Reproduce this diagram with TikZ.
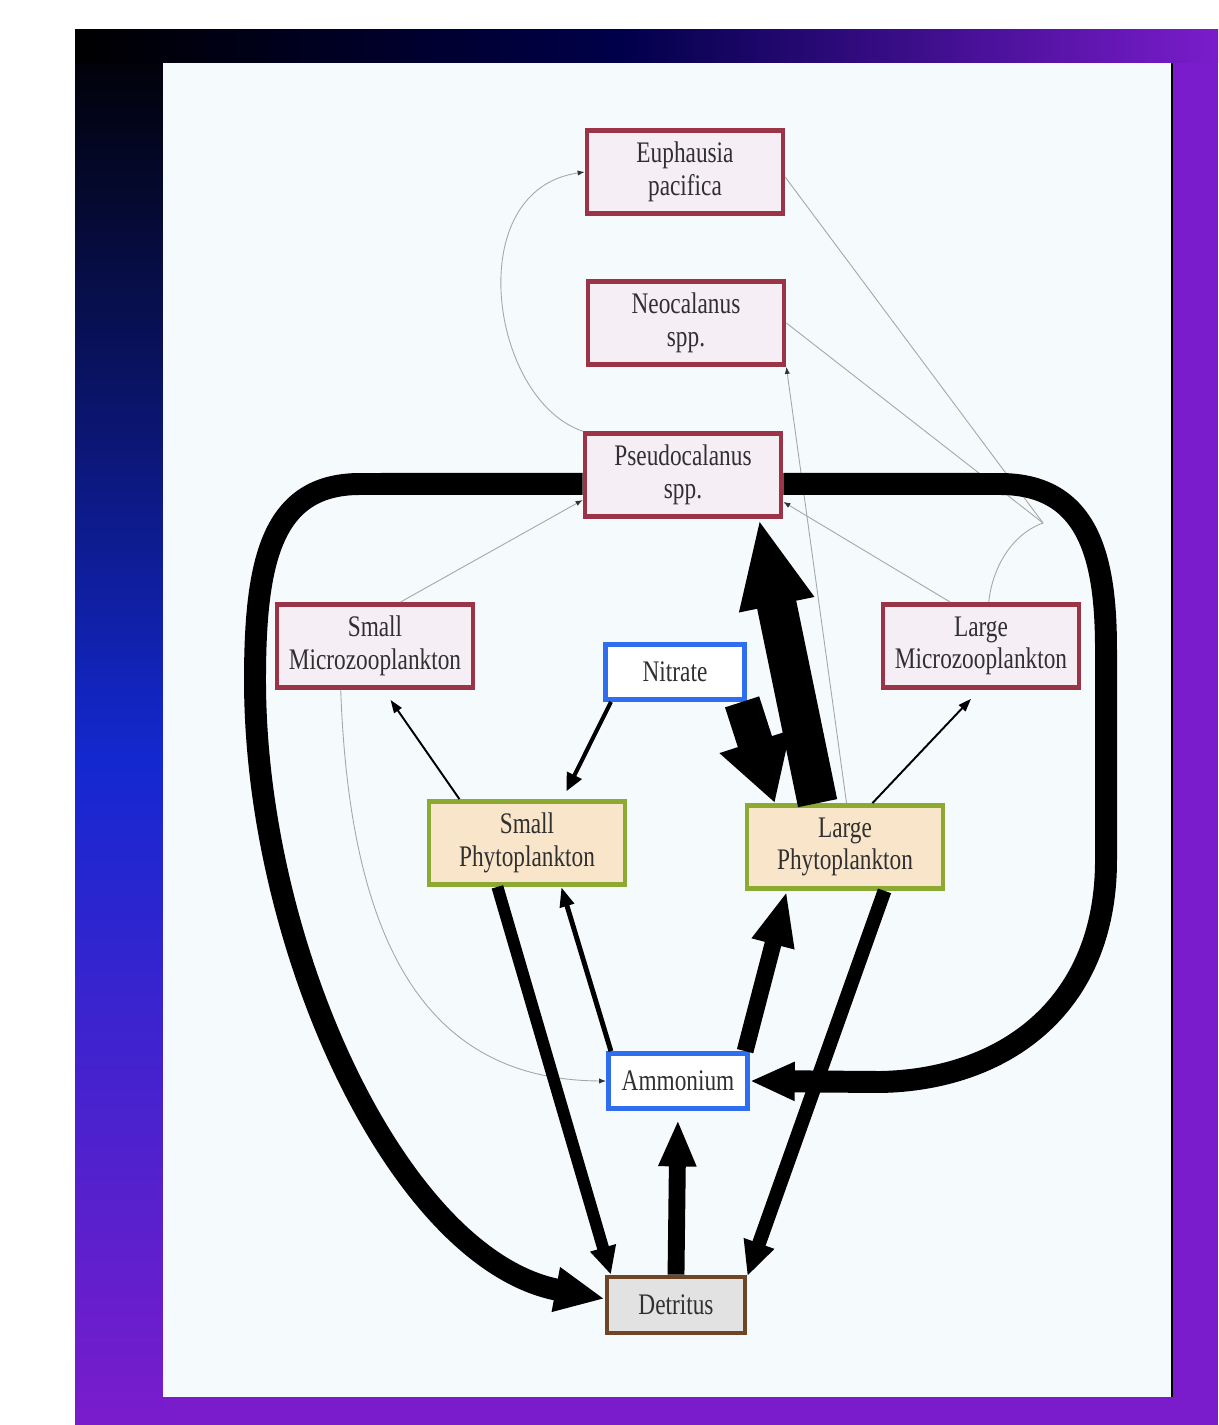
\documentclass[tikz,border=0pt]{standalone}
\usepackage{fontspec}
\setmainfont{Liberation Serif}[FakeStretch=0.78]
\usetikzlibrary{arrows.meta}

\definecolor{zooline}{HTML}{9A3446}
\definecolor{zoofill}{HTML}{F5EEF5}
\definecolor{phyline}{HTML}{8CAA32}
\definecolor{phyfill}{HTML}{F9E5C9}
\definecolor{nutline}{HTML}{2F6FEF}
\definecolor{detline}{HTML}{6E4626}
\definecolor{detfill}{HTML}{E2E2E2}
\definecolor{panel}{HTML}{F5FAFC}
\definecolor{label}{HTML}{303030}
\definecolor{bgnavy}{HTML}{00004A}
\definecolor{bgblue}{HTML}{1428D0}
\definecolor{bgpurple}{HTML}{7A1CCC}

\tikzset{
  box/.style={draw, line width=2.7pt, minimum width=3.92cm, minimum height=1.66cm,
    align=center, inner sep=0pt, text=label, font=\fontsize{17}{18.5}\selectfont},
  zoo/.style={box, draw=zooline, fill=zoofill},
  phyto/.style={box, draw=phyline, fill=phyfill},
  nutrient/.style={box, draw=nutline, fill=white, minimum width=2.78cm, minimum height=1.1cm},
  detritus/.style={box, draw=detline, fill=detfill, minimum width=2.76cm, minimum height=1.12cm},
  flux/.style n args={3}{draw=black, line width=#1pt, -{Triangle[width=#2pt,length=#3pt]}},
  trace/.style={draw=black!35, line width=0.5pt, -{Latex[length=4pt,width=3pt,color=black!80]}},
}

\begin{document}
\begin{tikzpicture}[x=0.02cm,y=-0.02cm]
  \useasboundingbox (0,0) rectangle (1218,1425);
  % backdrop
  \fill[bgpurple] (75,30) rectangle (1218,1425);
  \shade[top color=black, bottom color=bgblue] (75,30) rectangle (163,760);
  \shade[top color=bgblue, bottom color=bgpurple] (75,760) rectangle (163,1425);
  \shade[left color=black, right color=bgnavy] (75,30) rectangle (620,63);
  \shade[left color=bgnavy, right color=bgpurple] (620,30) rectangle (1218,63);
  \fill[panel] (163,63) rectangle (1172,1397);
  \draw[black, line width=1.5pt] (1172,63) -- (1172,1397);

  \node[zoo] (euph) at (685,172) {Euphausia\\pacifica};
  \node[zoo] (neo) at (686,323) {Neocalanus\\spp.};
  \node[zoo] (pseudo) at (683,475) {Pseudocalanus\\spp.};
  \node[zoo] (smz) at (375,646) {Small\\Microzooplankton};
  \node[nutrient] (no3) at (675,672) {Nitrate};
  \node[zoo] (lmz) at (981,646) {Large\\Microzooplankton};
  \node[phyto] (sp) at (527,843) {Small\\Phytoplankton};
  \node[phyto] (lp) at (845,847) {Large\\Phytoplankton};
  \node[nutrient] (nh4) at (678,1081) {Ammonium};
  \node[detritus] (det) at (676,1305) {Detritus};

  % weak fluxes
  \begin{scope}
    \draw[trace] (pseudo.north west) .. controls (490,400) and (460,190) .. (euph.west);
    \draw[trace] (smz.60) -- (pseudo.-166);
    \draw[trace] (smz.-128) .. controls (350,950) and (430,1080) .. (nh4.west);
    \draw[trace] (lmz.125) -- (pseudo.-15);
    \draw[trace] (lp.88) -- (neo.south east);
    \coordinate (join) at (1043,523);
    \draw[trace, -] (lmz.80) .. controls (992,570) and (1010,535) .. (join) -- (euph.-3);
    \draw[trace, -] (join) -- (neo.east);
  \end{scope}

  % strong fluxes
  \begin{scope}
    \draw[flux={12.5}{23.8}{28.3}] (pseudo.-175) -- (360,484)
      .. controls (272,484) and (255,560) .. (255,680)
      .. controls (255,950) and (400,1260) .. (det.175);
    \draw[flux={12.5}{20.4}{25.5}] (pseudo.-5) -- (1000,484)
      .. controls (1090,484) and (1106,560) .. (1106,650) -- (1106,860)
      .. controls (1106,1010) and (1000,1080) .. (880,1082) -- (nh4.east);
    \draw[flux={20.4}{39.7}{36.8}] (no3.-24) -- (lp.148);
    \draw[flux={22.7}{39.7}{49.9}] (lp.122) -- (pseudo.-30);
    \draw[flux={9.6}{19.8}{26.6}, shorten >=5pt] (det.north) -- (nh4.south);
    \draw[flux={6.8}{14.2}{15.9}] (sp.-124) -- (det.155);
    \draw[flux={7.9}{17}{19.8}] (lp.-48) -- (det.22);
    \draw[flux={2.8}{7.9}{11.3}] (nh4.156) -- (sp.-52);
    \draw[flux={9.6}{22.7}{31.2}] (nh4.24) -- (lp.-143);
    \draw[flux={2.3}{9}{10.2}, shorten >=5pt] (no3.-155) -- (sp.51);
    \draw[flux={1.1}{5.1}{7.4}, shorten >=7pt] (sp.147) -- (smz.-79);
    \draw[flux={1.1}{5.1}{7.4}, shorten >=7pt] (lp.58) -- (lmz.-92);
  \end{scope}
\end{tikzpicture}
\end{document}
